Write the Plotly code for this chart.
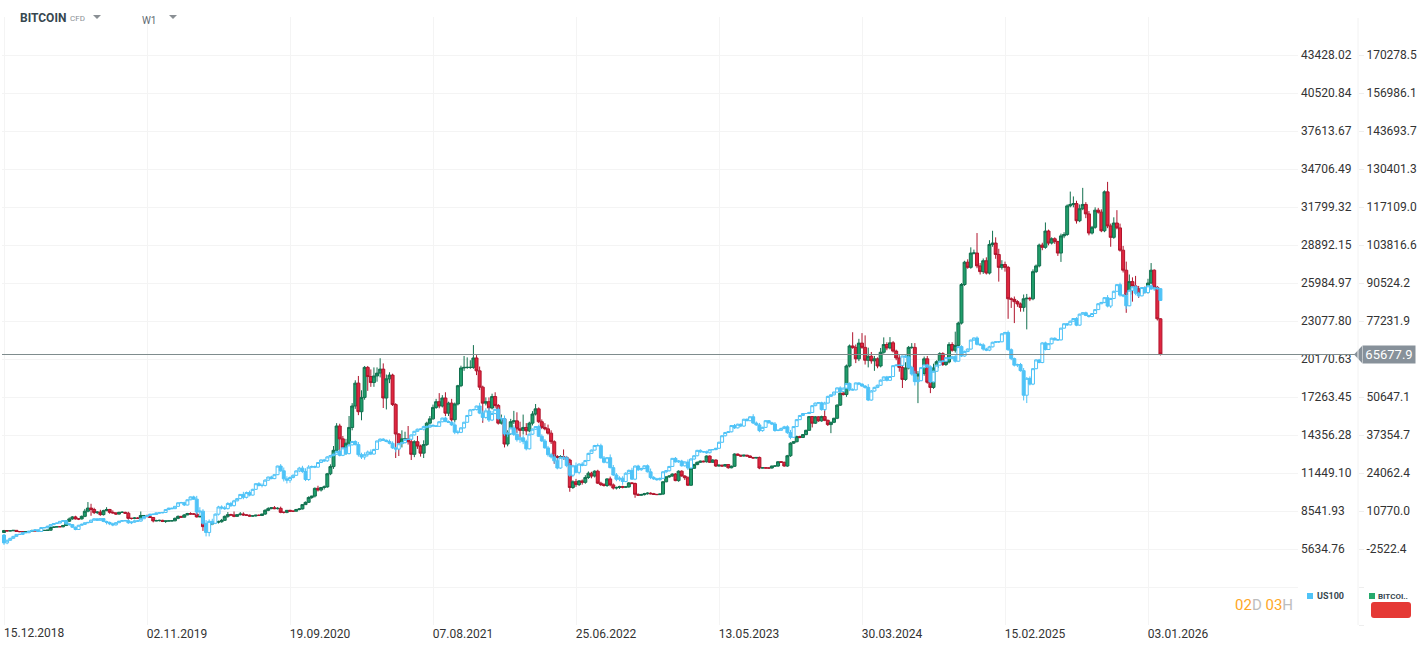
import pandas as pd
import plotly.graph_objects as go

# weekly candles. opens follow the previous close
date_labels = ["15.12.2018", "02.11.2019", "19.09.2020", "07.08.2021", "25.06.2022",
               "13.05.2023", "30.03.2024", "15.02.2025", "03.01.2026"]
us100_labels = ["43428.02", "40520.84", "37613.67", "34706.49", "31799.32", "28892.15", "25984.97",
                "23077.80", "20170.63", "17263.45", "14356.28", "11449.10", "8541.93", "5634.76"]
btc_labels = ["170278.5", "156986.1", "143693.7", "130401.3", "117109.0", "103816.6", "90524.2",
              "77231.9", "63939.5", "50647.1", "37354.7", "24062.4", "10770.0", "-2522.4"]
btc_hidden_label = "63939.5"  # sits under the last price tag
btc_last = 65677.9
btc_first_open = 3250
us100_first_open = 6700

btc_close = [
    3950,3800,3850,4000,3600,3550,3450,3600,3600,3950,3800,3900,3950,4000,4050,5000,5150,5300,5250,5700,
    7200,8000,8700,8000,8000,8900,10700,11800,11300,10200,10400,9500,10900,11300,10300,10100,9700,10300,10300,10000,
    8200,8200,8300,8200,9200,9200,8800,8500,7300,7400,7500,7100,7300,7300,7350,8200,8900,8600,9400,9900,
    9700,9700,8700,8900,5300,5800,6200,6800,6900,7000,7500,8900,9500,9400,8900,9500,9700,9400,9300,9000,
    9050,9300,9200,9700,11000,11600,11900,11600,11700,10300,10300,11000,10700,10700,11300,11500,13000,13800,15500,16000,
    18700,18100,19000,19200,23800,26300,32000,40500,36000,33000,34500,40000,47500,55500,45500,50500,61000,57800,55700,58000,
    59000,60400,50300,57000,58300,48000,37700,34500,36000,36000,35000,30600,35000,33500,31000,34000,41500,43000,47000,49000,
    47500,50300,45000,48500,42700,48200,54600,60800,61000,61000,61000,64300,59800,54100,48500,49000,46800,50800,47700,41500,
    43000,34200,38000,42000,42300,39500,39000,40000,38800,41500,44700,46500,42000,40000,39500,38000,35000,29800,29500,29800,
    29500,28600,19000,21000,20000,21300,20800,22500,24000,23000,24700,20500,20000,19700,22000,19900,18800,19000,19300,19100,
    19200,20600,20400,16600,16300,16500,16800,17000,16800,16600,16500,16700,21000,22700,23000,23700,21400,24700,23000,22400,
    19800,25700,27000,27800,28200,28000,30000,27800,28600,26500,26800,26500,27000,25900,26400,30700,30300,30000,30300,30000,
    29500,29300,29500,25800,25900,25800,25800,26500,26500,28000,27800,26500,30100,34500,35000,36800,36500,37500,39000,43800,
    41500,43700,42300,43800,42500,41000,41800,43200,47800,52000,51500,61500,68500,68000,64000,69500,68000,63500,64900,63300,
    64000,61500,66300,69000,67800,69600,66700,64300,61000,56800,60800,68000,68000,58000,58700,58900,64000,55800,54000,60800,
    63000,65800,62000,62900,69000,67000,68700,76500,90000,97800,96000,101000,101000,96500,94500,98300,94000,104000,104500,100500,
    96000,97000,96000,85000,84800,84000,83200,82000,85000,85200,85000,94500,96500,103800,103000,108700,104500,106000,105000,101000,
    107000,107500,117500,118000,118300,112300,116500,118000,114700,108000,110000,116000,115300,108800,122400,110500,106500,111500,109800,102000,
    95000,86500,91000,89500,88500,86800,88500,87500,90500,95000,89000,78000,65678,
]
# wick lengths above and below the body, in units of 100
btc_wick_up = [
    2,1,1,1,0,0,1,1,0,3,1,1,1,1,1,3,2,1,1,2,
    3,5,3,4,1,3,8,21,15,6,3,8,3,8,2,7,3,2,4,2,
    5,1,3,3,14,1,3,1,1,3,2,2,1,1,1,3,3,1,3,2,
    4,3,7,1,3,4,4,1,6,4,5,3,9,3,12,1,7,6,2,2,
    2,1,3,1,4,5,2,6,4,6,2,1,2,2,2,3,1,3,4,1,
    3,9,1,5,3,8,15,10,8,10,15,40,10,10,25,25,5,5,25,30,
    20,38,20,15,10,5,5,3,30,25,45,15,5,20,5,15,5,10,10,10,
    30,10,20,5,15,5,3,8,40,35,25,45,10,15,5,15,15,10,15,5,
    15,5,10,10,35,30,25,45,15,5,10,17,5,8,15,15,10,5,5,5,
    25,5,5,5,10,3,5,8,6,5,3,5,5,5,2,8,5,3,3,3,
    3,3,3,3,3,3,3,3,3,3,1,1,2,3,3,2,3,3,3,3,
    5,2,3,3,2,2,2,2,3,2,2,2,1,2,3,2,1,1,1,1,
    2,1,1,3,2,1,1,1,1,2,2,2,3,3,2,3,3,2,2,2,
    2,3,2,3,30,2,2,2,3,2,3,5,5,48,10,15,35,42,30,15,
    10,5,15,25,8,20,6,5,10,5,20,5,15,15,10,8,8,10,8,15,
    5,5,5,5,8,8,48,5,5,5,10,20,12,70,10,8,12,15,43,20,
    20,15,10,5,5,10,5,5,15,15,5,8,5,5,8,30,5,5,5,3,
    8,8,5,45,25,10,15,58,8,10,5,10,8,10,5,35,8,20,45,15,
    15,30,25,15,35,10,5,8,15,25,3,5,2,
]
btc_wick_down = [
    0,2,1,1,0,2,1,1,0,1,1,1,1,1,1,1,1,1,1,2,
    2,3,3,2,4,2,3,4,22,5,5,4,3,2,5,2,3,2,2,2,
    5,4,3,1,5,2,2,2,5,1,3,2,5,1,1,2,3,1,1,1,
    2,2,2,1,15,5,3,2,2,5,3,2,5,4,3,2,3,3,2,2,
    2,2,2,1,3,3,2,2,3,3,4,3,2,3,1,3,2,1,2,5,
    5,5,5,7,3,5,8,5,60,10,25,30,10,10,12,30,8,50,15,15,
    20,15,35,40,15,5,84,45,15,15,10,20,10,10,12,17,5,5,3,5,
    8,5,10,10,15,8,5,5,10,5,5,5,15,10,69,8,15,5,8,5,
    5,12,8,6,8,15,25,15,15,5,8,5,5,6,5,5,8,25,15,5,
    8,5,15,5,8,5,8,5,5,8,5,3,5,4,5,5,5,5,5,4,
    3,3,3,12,2,2,3,3,2,1,1,1,3,2,3,2,2,4,2,8,
    3,3,2,2,2,2,3,2,2,3,2,2,3,3,2,2,2,2,2,2,
    2,1,2,4,1,1,1,2,2,3,1,2,3,4,3,2,3,2,2,2,
    15,3,3,3,3,5,30,3,3,3,3,8,5,5,15,8,5,15,25,10,
    35,8,5,5,8,5,5,8,15,30,5,5,5,20,95,5,8,5,20,5,
    5,5,5,5,5,5,8,5,5,5,5,5,5,8,10,8,5,5,8,15,
    50,8,15,70,30,75,10,15,15,107,8,5,5,5,10,5,8,5,8,10,
    31,8,5,5,10,10,5,5,15,8,5,5,5,5,5,8,33,5,5,5,
    8,64,5,55,8,15,4,6,6,4,6,6,5,
]

us100_close = [
    6100,6300,6450,6600,6750,6750,6900,6880,7000,7050,7100,6980,7280,7260,7380,7500,7580,7620,7750,7800,
    7560,7500,7300,7130,7450,7520,7640,7670,7840,7940,7830,7960,7740,7660,7560,7480,7650,7760,7800,7800,
    7640,7690,7780,7770,7950,8120,8200,8300,8280,8400,8400,8430,8650,8760,8720,8900,9170,9180,9000,9400,
    9620,9450,8460,8530,7600,6900,7750,7600,8300,8850,8780,8720,9120,8950,9320,9490,9810,9590,9950,9760,
    10200,10630,10500,10500,10900,11140,11020,11320,11980,11620,11000,10900,11100,11270,11610,11820,11560,10950,11900,11940,
    11900,12250,12450,12380,12680,12780,12890,13100,12800,13370,12930,13600,13860,13620,12850,12670,12850,13050,12900,13250,
    13900,14040,13950,13860,13720,13370,13280,13690,13770,14020,14030,14360,14640,14800,14800,15000,14960,15100,15050,15020,
    15370,15650,15380,15320,15130,14570,14560,14900,15330,15850,16280,16300,16570,16030,15700,16200,15500,16000,16320,15600,
    15600,14440,14450,14900,14400,14000,14140,13850,13300,14420,14800,15000,14260,13900,13370,12850,12680,12380,11830,12650,
    12610,12010,11280,12000,11500,12130,12040,12400,12950,13200,13550,13540,12600,12270,12620,11860,11300,10970,11050,10800,
    11430,11650,10980,11980,11700,11790,12000,11540,11100,11000,10940,11040,11540,11620,11950,12570,12300,12360,12000,12290,
    11830,12520,12770,13180,13060,13080,13000,13230,13240,13340,13800,14300,14550,14600,15080,14900,15180,15040,15560,15450,
    15750,15270,15130,14690,14940,15450,15290,15200,14700,14720,14860,14980,14540,14180,15000,15530,15850,16000,16000,16080,
    16600,16800,16820,16300,16800,17310,17430,17640,17960,17690,17940,18300,17810,17810,18340,18250,18100,18000,17030,17720,
    18000,18160,18550,18800,18540,18830,19660,19700,19680,20400,20330,19530,19020,18440,18510,19510,19720,19570,18420,19230,
    19700,20000,20000,20270,20200,20350,20000,21120,20400,20740,20930,21620,21780,21290,21250,20930,20850,21100,21450,21480,
    21490,22100,22200,20880,20200,19700,19750,19280,17400,18690,18250,19430,20100,19900,21400,20900,21340,21760,21630,21630,
    22530,22870,22780,23060,23270,22760,23600,23710,23500,23420,23650,23950,24400,24500,24860,24220,24800,25350,25860,25060,
    25000,24240,25430,25690,25200,25000,25640,25250,25770,25530,25600,25550,24650,
]
# wick lengths in units of 10 points
us100_wick_up = [
    8,5,4,4,3,3,3,3,2,3,3,4,2,2,3,3,2,2,2,3,
    3,5,4,5,3,6,3,2,3,3,3,2,4,6,8,9,4,3,5,6,
    9,6,5,6,3,2,3,2,5,2,4,3,2,3,4,2,3,6,7,2,
    3,9,25,30,15,25,15,20,5,9,12,15,9,12,8,5,3,20,8,15,
    4,3,12,15,8,3,10,3,3,15,25,20,9,8,3,10,18,25,15,8,
    8,4,3,8,6,6,4,4,15,8,15,4,5,9,20,15,18,12,20,5,
    3,5,7,6,15,15,8,8,6,5,6,4,3,4,5,7,8,5,6,6,
    4,3,12,9,10,25,15,6,4,4,5,6,3,25,20,20,25,20,6,15,
    15,25,15,8,20,20,15,20,15,5,6,4,15,15,15,15,15,20,20,5,
    15,15,20,8,25,6,15,5,5,4,5,15,15,15,5,25,20,15,15,15,
    8,6,20,5,10,6,4,10,25,12,8,6,5,5,4,3,10,8,10,6,
    20,6,5,4,8,5,8,3,4,3,5,3,4,6,3,12,4,6,4,6,
    4,20,12,15,5,4,5,8,15,6,6,8,12,20,3,4,4,3,4,5,
    4,3,3,8,10,5,3,4,3,12,5,3,8,12,3,4,6,8,25,8,
    5,5,6,3,8,3,4,8,5,3,12,10,12,25,12,5,3,8,12,5,
    5,3,8,4,6,6,12,3,10,8,5,3,4,12,12,12,10,8,4,5,
    5,5,5,15,10,8,6,12,20,10,15,5,5,8,5,10,4,4,6,3,
    3,3,6,5,3,10,4,4,8,6,4,3,3,3,5,20,5,5,5,15,
    8,25,5,3,12,10,4,5,5,10,10,8,5,
]
us100_wick_down = [
    15,10,5,3,2,3,3,3,3,2,3,5,2,3,3,3,2,3,2,3,
    5,8,5,6,3,3,4,4,3,4,5,3,5,15,10,10,5,4,3,5,
    8,10,5,5,4,2,3,2,3,2,6,3,2,2,4,3,3,3,8,3,
    3,5,20,30,10,30,30,15,6,10,12,9,6,10,6,4,4,15,9,10,
    4,3,8,15,8,4,5,4,3,8,20,25,20,6,3,10,10,12,10,8,
    8,5,4,8,8,6,5,5,8,6,9,6,4,6,15,15,20,15,8,4,
    3,5,6,6,8,8,25,8,4,5,5,5,4,4,6,10,5,6,5,5,
    5,4,4,5,8,15,15,6,5,3,5,5,6,8,25,10,15,8,6,8,
    20,15,25,6,12,15,25,20,12,5,6,5,6,8,6,15,12,20,10,6,
    15,12,12,15,8,15,8,5,4,5,3,5,5,8,10,6,8,15,15,25,
    6,8,6,8,10,8,5,5,12,8,8,8,5,8,5,4,5,8,6,6,
    15,8,6,5,6,6,8,5,3,5,4,3,5,4,4,8,4,8,6,4,
    4,8,8,12,8,4,6,8,10,5,5,6,10,15,3,3,3,4,4,4,
    4,4,3,8,10,5,3,5,3,8,5,4,10,4,4,8,6,10,8,5,
    5,6,5,5,8,4,4,5,5,3,8,8,12,30,15,4,5,8,10,5,
    4,3,8,5,4,5,10,3,8,6,4,4,6,8,8,12,8,8,4,6,
    8,4,5,8,12,10,15,8,40,60,10,8,5,5,5,8,4,6,4,4,
    4,3,8,4,3,8,4,4,5,8,5,4,3,3,6,10,15,5,3,12,
    10,25,3,3,15,12,3,6,5,8,15,8,4,
]


def make_series(first_open, closes, wick_up, wick_down, unit):
    opens = [first_open] + closes[:-1]
    highs = [max(o, c) + w * unit for o, c, w in zip(opens, closes, wick_up)]
    lows = [min(o, c) - w * unit for o, c, w in zip(opens, closes, wick_down)]
    return opens, highs, lows


dates = pd.date_range("2018-12-15", periods=len(btc_close), freq="7D")
tick_dates = pd.to_datetime(date_labels, format="%d.%m.%Y")

btc_open, btc_high, btc_low = make_series(btc_first_open, btc_close, btc_wick_up, btc_wick_down, 100)
us_open, us_high, us_low = make_series(us100_first_open, us100_close, us100_wick_up, us100_wick_down, 10)

# page pixels <-> paper coordinates
W, H = 1426, 650
LEFT, RIGHT, TOP, BOTTOM = 2, 1298, 17, 625
def px(x):
    return (x - LEFT) / (W - LEFT)
def py(y):
    return (BOTTOM - y) / (BOTTOM - TOP)

week_px = 143 / 46
x_start = dates[0] - pd.Timedelta(days=7 * (4 - LEFT) / week_px)
x_end = dates[0] + pd.Timedelta(days=7 * (RIGHT - 4) / week_px)

fig = go.Figure()
fig.add_trace(go.Candlestick(
    x=dates, open=btc_open, high=btc_high, low=btc_low, close=btc_close, yaxis="y", xaxis="x",
    increasing=dict(line=dict(color="#12704f", width=1), fillcolor="#1f9e6a"),
    decreasing=dict(line=dict(color="#b0142c", width=1), fillcolor="#e0263f"),
    showlegend=False, hoverinfo="skip", whiskerwidth=0))
fig.add_trace(go.Candlestick(
    x=dates, open=us_open, high=us_high, low=us_low, close=us100_close, yaxis="y2", xaxis="x",
    increasing=dict(line=dict(color="#4fc3f7", width=1), fillcolor="#ffffff"),
    decreasing=dict(line=dict(color="#4fc3f7", width=1), fillcolor="#4fc3f7"),
    showlegend=False, hoverinfo="skip", whiskerwidth=0))

us_step = float(us100_labels[0]) - float(us100_labels[1])
btc_step = float(btc_labels[0]) - float(btc_labels[1])
us_vals = [float(v) for v in us100_labels]
btc_vals = [float(v) for v in btc_labels]
us_vals_all = us_vals + [us_vals[-1] - us_step, us_vals[-1] - 2 * us_step]
btc_vals_all = btc_vals + [btc_vals[-1] - btc_step, btc_vals[-1] - 2 * btc_step]
btc_text = ["" if t == btc_hidden_label else t for t in btc_labels] + ["", ""]
tick_font = dict(family="Roboto", size=12, color="#333333")

fig.update_layout(
    width=W, height=H, margin=dict(l=LEFT, r=0, t=TOP, b=H - BOTTOM, autoexpand=False),
    paper_bgcolor="white", plot_bgcolor="white", boxgap=0.05, boxgroupgap=0,
    xaxis=dict(domain=[0, px(RIGHT)], range=[x_start, x_end], type="date", rangeslider=dict(visible=False),
               tickmode="array", tickvals=list(tick_dates), ticktext=[""] + date_labels[1:], ticklabelshift=30,
               showgrid=True, gridcolor="#f4f4f4", gridwidth=1, zeroline=False, showline=False,
               ticks="", tickfont=tick_font),
    yaxis=dict(side="right", anchor="free", position=px(1358),
               range=[btc_vals[-1] - 2 * btc_step, btc_vals[0] + btc_step],
               tickmode="array", tickvals=btc_vals_all, ticktext=btc_text,
               showgrid=True, gridcolor="#f4f4f4", gridwidth=1, zeroline=False, showline=False,
               ticks="outside", ticklen=5, tickcolor="#eeeeee", tickfont=tick_font),
    yaxis2=dict(side="right", anchor="free", position=px(1300), overlaying="y",
                range=[us_vals[-1] - 2 * us_step, us_vals[0] + us_step],
                tickmode="array", tickvals=us_vals, ticktext=us100_labels,
                showgrid=False, zeroline=False, showline=False, ticks="", tickfont=tick_font),
)

shapes = [
    # last price line and its tag arrow
    dict(type="line", xref="paper", yref="paper", x0=0, x1=px(1356), y0=py(354.5), y1=py(354.5),
         line=dict(color="#7f8c8d", width=1)),
    dict(type="path", xref="paper", yref="paper", line=dict(width=0), fillcolor="#87919a",
         path=f"M {px(1354)} {py(354.5)} L {px(1362)} {py(346)} L {px(1362)} {py(363)} Z"),
    # axis divider
    dict(type="line", xref="paper", yref="paper", x0=px(1358), x1=px(1358), y0=py(625), y1=py(18),
         line=dict(color="#f2f2f2", width=1)),
    # header dropdown arrows
    dict(type="path", xref="paper", yref="paper", line=dict(width=0), fillcolor="#8a8f94",
         path=f"M {px(93)} {py(15)} L {px(101)} {py(15)} L {px(97)} {py(19)} Z"),
    dict(type="path", xref="paper", yref="paper", line=dict(width=0), fillcolor="#8a8f94",
         path=f"M {px(169)} {py(15)} L {px(177)} {py(15)} L {px(173)} {py(19)} Z"),
    # legend chips
    dict(type="rect", xref="paper", yref="paper", x0=px(1307), x1=px(1313), y0=py(599), y1=py(593),
         line=dict(width=0), fillcolor="#4fc3f7"),
    dict(type="rect", xref="paper", yref="paper", x0=px(1369), x1=px(1375), y0=py(599), y1=py(593),
         line=dict(width=0), fillcolor="#26a96c"),
    dict(type="path", xref="paper", yref="paper", line=dict(width=0), fillcolor="#e53935",
         path=f"M {px(1374)} {py(602)} L {px(1408)} {py(602)} Q {px(1411)} {py(602)} {px(1411)} {py(605)} "
              f"L {px(1411)} {py(615)} Q {px(1411)} {py(618)} {px(1408)} {py(618)} L {px(1374)} {py(618)} "
              f"Q {px(1371)} {py(618)} {px(1371)} {py(615)} L {px(1371)} {py(605)} Q {px(1371)} {py(602)} {px(1374)} {py(602)} Z"),
]
fig.update_layout(shapes=shapes)


def note(x, y, text, size, color, anchor="left", bold=False):
    fig.add_annotation(xref="paper", yref="paper", x=px(x), y=py(y), text=f"<b>{text}</b>" if bold else text,
                       showarrow=False, xanchor=anchor, yanchor="middle", borderpad=0, borderwidth=0,
                       font=dict(family="Roboto", size=size, color=color))


note(20, 18, "BITCOIN", 12, "#37474f", bold=True)
note(70, 19, "CFD", 8, "#8a9095")
note(142, 20, "W1", 10, "#5f6b72")
note(1317, 596, "US100", 9, "#37474f", bold=True)
note(1378, 596, "BITCOI..", 8, "#37474f", bold=True)
note(1235, 605, '<span style="color:#ffa726">02</span>D <span style="color:#ffa726">03</span>H', 15, "#bdbdbd")
note(4, 633, date_labels[0], 12, "#333333")
fig.add_annotation(xref="paper", yref="paper", x=px(1362), y=py(354.5), xanchor="left", yanchor="middle",
                   text="65677.9", showarrow=False, bgcolor="#87919a", borderpad=1, width=50, height=15,
                   font=dict(family="Roboto", size=13, color="white"))

fig.write_html("out.html", config=dict(displayModeBar=False), post_script="document.body.style.margin='0';")
